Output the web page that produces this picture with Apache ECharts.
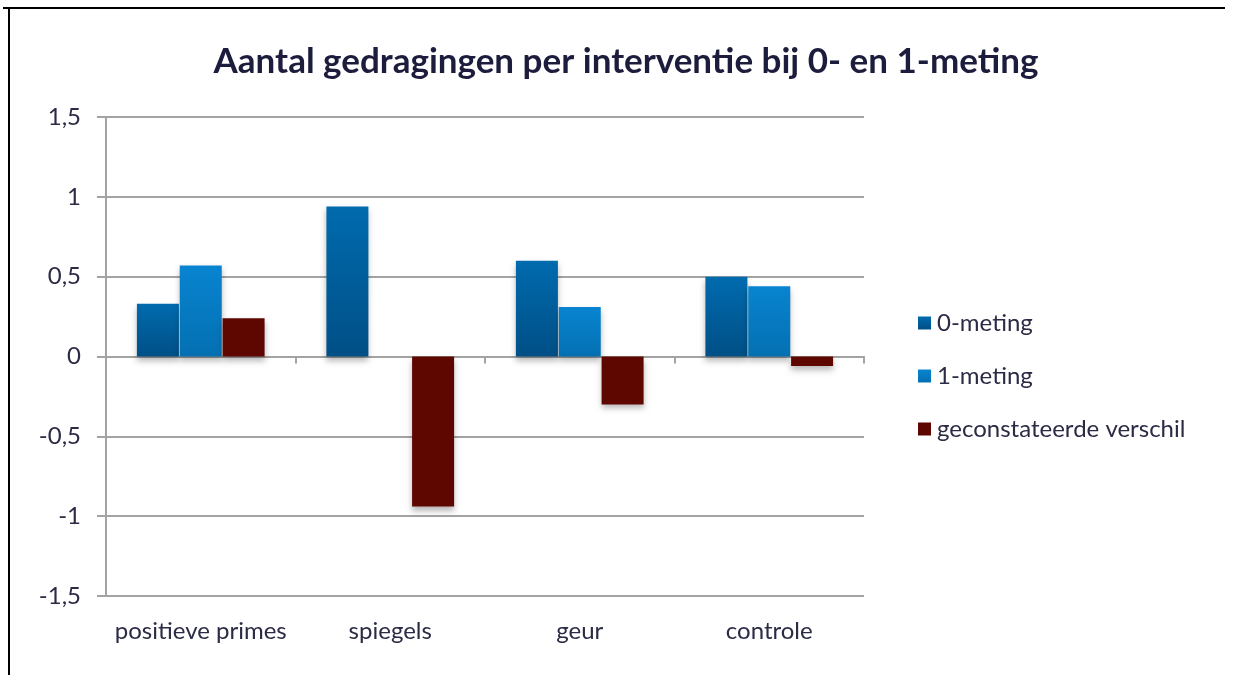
<!DOCTYPE html>
<html>
<head>
<meta charset="utf-8">
<script src="https://cdn.jsdelivr.net/npm/echarts@6/dist/echarts.min.js"></script>
<style>
  html, body { margin: 0; padding: 0; background: #fff; }
  #chart { width: 1235px; height: 675px; }
</style>
</head>
<body>
<div id="chart"></div>
<script>
// Interventions and measured behaviour counts
const categories = ['positieve primes', 'spiegels', 'geur', 'controle'];
const meting0 = [0.33, 0.94, 0.60, 0.50];
const meting1 = [0.57, 0.00, 0.31, 0.44];
const verschil = [0.24, -0.94, -0.30, -0.06];
const seriesNames = ['0-meting', '1-meting', 'geconstateerde verschil'];

const FONT = 'Lato, "Open Sans", sans-serif';
const TEXT = '#2b2b45';
const GRIDLINE = '#a3a3a3';

const chart = echarts.init(document.getElementById('chart'));

function grad(top, bottom) {
  return new echarts.graphic.LinearGradient(0, 0, 0, 1, [
    { offset: 0, color: top },
    { offset: 1, color: bottom }
  ]);
}

const shadow = {
  shadowBlur: 6,
  shadowOffsetY: 4,
  shadowColor: 'rgba(0,0,0,0.28)'
};

chart.setOption({
  backgroundColor: '#fff',
  animation: false,
  title: {
    text: 'Aantal gedragingen per interventie bij 0- en 1-meting',
    left: 621,
    textAlign: 'center',
    top: 39,
    textStyle: { fontFamily: FONT, fontSize: 35, fontWeight: 'bold', color: '#1c1c3c' }
  },
  legend: {
    orient: 'vertical',
    left: 913,
    top: 306,
    itemGap: 29,
    itemWidth: 13,
    itemHeight: 13,
    icon: 'rect',
    data: seriesNames,
    textStyle: { fontFamily: FONT, fontSize: 24, color: TEXT, padding: [0, 0, 0, 1] }
  },
  graphic: [
    { type: 'rect', shape: { x: 3, y: 7, width: 1222, height: 2 }, style: { fill: '#000' }, silent: true },
    { type: 'rect', shape: { x: 8, y: 7, width: 2, height: 668 }, style: { fill: '#000' }, silent: true }
  ],
  grid: { left: 106, right: 371, top: 117, bottom: 79 },
  xAxis: [
    {
      type: 'category',
      data: categories,
      position: 'bottom',
      axisLine: { show: false, onZero: false },
      axisTick: { show: false },
      axisLabel: { interval: 0, margin: 23, fontFamily: FONT, fontSize: 24, color: TEXT }
    },
    {
      type: 'category',
      data: categories,
      position: 'bottom',
      axisLine: { show: true, onZero: true, lineStyle: { color: GRIDLINE, width: 2 } },
      axisTick: { show: true, inside: false, length: 7, lineStyle: { color: GRIDLINE, width: 2 } },
      axisLabel: { show: false }
    }
  ],
  yAxis: {
    type: 'value',
    min: -1.5,
    max: 1.5,
    interval: 0.5,
    axisLine: { show: true, lineStyle: { color: GRIDLINE, width: 2 } },
    axisTick: { show: true, length: 9, lineStyle: { color: GRIDLINE, width: 2 } },
    splitLine: { show: true, lineStyle: { color: GRIDLINE, width: 2 } },
    axisLabel: {
      margin: 25,
      fontFamily: FONT,
      fontSize: 24,
      color: TEXT,
      formatter: v => String(Math.round(v * 10) / 10).replace('.', ',')
    }
  },
  series: [
    {
      name: seriesNames[0],
      type: 'bar',
      data: meting0,
      barWidth: 42,
      barGap: '0%',
      itemStyle: Object.assign({ color: grad('#006bae', '#004f86') }, shadow),
      z: 3
    },
    {
      name: seriesNames[1],
      type: 'bar',
      data: meting1,
      barWidth: 42,
      barGap: '0%',
      itemStyle: Object.assign({ color: grad('#0884d0', '#0470b2') }, shadow),
      z: 3
    },
    {
      name: seriesNames[2],
      type: 'bar',
      data: verschil,
      barWidth: 42,
      barGap: '2%',
      itemStyle: Object.assign({ color: '#5e0600' }, shadow),
      z: 3
    }
  ]
});
</script>
</body>
</html>
